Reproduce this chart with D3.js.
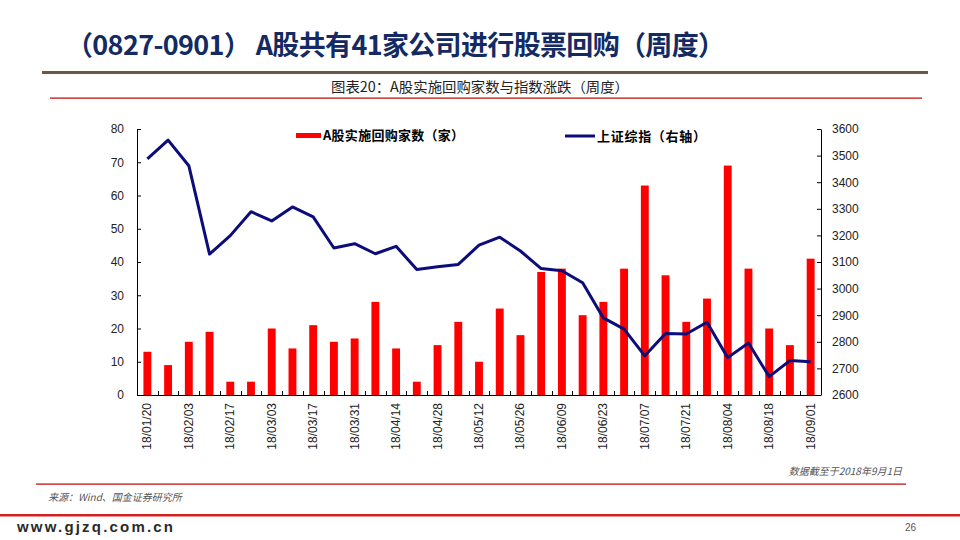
<!DOCTYPE html>
<html><head><meta charset="utf-8">
<script src="https://cdn.jsdelivr.net/npm/d3@7/dist/d3.min.js"></script>
<style>
html,body{margin:0;padding:0;background:#fff;}
svg{display:block;}
</style></head>
<body>
<svg id="c" width="960" height="540"></svg>
<script>
const dates = ["18/01/20","18/01/27","18/02/03","18/02/10","18/02/17","18/02/24","18/03/03","18/03/10","18/03/17","18/03/24","18/03/31","18/04/07","18/04/14","18/04/21","18/04/28","18/05/05","18/05/12","18/05/19","18/05/26","18/06/02","18/06/09","18/06/16","18/06/23","18/06/30","18/07/07","18/07/14","18/07/21","18/07/28","18/08/04","18/08/11","18/08/18","18/08/25","18/09/01"];
const buybacks = [13,9,16,19,4,4,20,14,21,16,17,28,14,4,15,22,10,26,18,37,38,24,28,38,63,36,22,29,69,38,20,15,41];
const shIndex = [3487.86,3558.13,3462.08,3129.85,3199.16,3289.02,3254.53,3307.17,3269.88,3152.76,3168.90,3131.11,3159.05,3071.54,3082.23,3091.03,3163.26,3193.30,3141.30,3075.14,3067.15,3021.90,2889.76,2847.42,2747.23,2831.18,2829.27,2873.59,2740.44,2795.31,2668.97,2729.43,2725.25];
const tickLabels = ["18/01/20","18/02/03","18/02/17","18/03/03","18/03/17","18/03/31","18/04/14","18/04/28","18/05/12","18/05/26","18/06/09","18/06/23","18/07/07","18/07/21","18/08/04","18/08/18","18/09/01"];
const leftTicks = [0,10,20,30,40,50,60,70,80];
const rightTicks = [2600,2700,2800,2900,3000,3100,3200,3300,3400,3500,3600];
const seriesNames = ["A股实施回购家数（家）","上证综指（右轴）"];
const titleText = "（0827-0901） A股共有41家公司进行股票回购（周度）";
const subtitleText = "图表20：A股实施回购家数与指数涨跌（周度）";

const svg = d3.select("#c");
const CJK = "'Noto Sans CJK SC','Noto Sans',sans-serif";
const LAT = "'Liberation Sans',Arial,sans-serif";

// header
svg.append("text").attr("x",66).attr("y",55).attr("font-family",CJK).attr("font-weight",700)
  .attr("font-size",27).attr("fill","#132a63").attr("textLength",659).text(titleText);
svg.append("rect").attr("x",42).attr("y",71).attr("width",886).attr("height",3).attr("fill","#6b5749");
svg.append("text").attr("x",480).attr("y",92).attr("text-anchor","middle").attr("font-family",CJK)
  .attr("font-size",14).attr("fill","#222").attr("textLength",298).attr("lengthAdjust","spacingAndGlyphs").text(subtitleText);
svg.append("rect").attr("x",50).attr("y",97.5).attr("width",872).attr("height",1.2).attr("fill","#c00000");

// chart
const L = 137, R = 821, T = 129, B = 395;
const x = d3.scaleBand().domain(dates).range([L,R]).paddingInner(0.62).paddingOuter(0.31);
const yL = d3.scaleLinear().domain([0,80]).range([B,T]);
const yR = d3.scaleLinear().domain([2600,3600]).range([B,T]);

const g = svg.append("g");
g.selectAll("rect.bar").data(buybacks).join("rect").attr("class","bar")
  .attr("x",(d,i)=>x(dates[i])).attr("y",d=>yL(d)).attr("width",x.bandwidth()).attr("height",d=>B-yL(d))
  .attr("fill","#ff0000");

const line = d3.line().x((d,i)=>x(dates[i])+x.bandwidth()/2).y(d=>yR(d));
g.append("path").datum(shIndex).attr("d",line).attr("fill","none").attr("stroke","#0c0c7a")
  .attr("stroke-width",3).attr("stroke-linejoin","round");

// axes
const axL = d3.axisLeft(yL).tickValues(leftTicks).tickFormat(d3.format("d")).tickSizeInner(-4).tickSizeOuter(0).tickPadding(13);
const gL = svg.append("g").attr("transform",`translate(${L},0)`).call(axL);
const axR = d3.axisRight(yR).tickValues(rightTicks).tickFormat(d3.format("d")).tickSizeInner(-4).tickSizeOuter(0).tickPadding(11);
const gR = svg.append("g").attr("transform",`translate(${R},0)`).call(axR);
[gL,gR].forEach(a=>{
  a.selectAll("path.domain").attr("stroke","#000");
  a.selectAll("line").attr("stroke","#000");
  a.selectAll("text").attr("font-family",LAT).attr("font-size",12).attr("fill","#222");
});
// bottom axis
svg.append("line").attr("x1",L).attr("x2",R).attr("y1",B+0.5).attr("y2",B+0.5).attr("stroke","#000");
const step = x.step();
const bounds = d3.range(dates.length+1).map(i=>x(dates[0]) - x.paddingInner()*step/2 + i*step);
svg.selectAll("line.xt").data(bounds).join("line").attr("class","xt")
  .attr("x1",d=>Math.round(d)+0.5).attr("x2",d=>Math.round(d)+0.5).attr("y1",B).attr("y2",B-4).attr("stroke","#000");
svg.selectAll("text.xl").data(tickLabels).join("text").attr("class","xl")
  .attr("transform",d=>`translate(${x(d)+x.bandwidth()/2+4},403) rotate(-90)`)
  .attr("text-anchor","end").attr("font-family",LAT).attr("font-size",12).attr("fill","#222").text(d=>d);

// legend
svg.append("rect").attr("x",296).attr("y",133).attr("width",25).attr("height",5).attr("fill","#ff0000");
svg.append("text").attr("x",323).attr("y",140).attr("font-family",CJK).attr("font-weight",700)
  .attr("font-size",13).attr("fill","#000").attr("textLength",141).text(seriesNames[0]);
svg.append("line").attr("x1",565).attr("x2",595).attr("y1",136).attr("y2",136).attr("stroke","#0c0c7a").attr("stroke-width",3);
svg.append("text").attr("x",597).attr("y",140.5).attr("font-family",CJK).attr("font-weight",700)
  .attr("font-size",13).attr("fill","#000").attr("textLength",109).text(seriesNames[1]);

// footer
svg.append("text").attr("x",902).attr("y",475).attr("text-anchor","end").attr("font-family",CJK)
  .attr("font-style","italic").attr("font-size",10).attr("fill","#555").text("数据截至于2018年9月1日");
svg.append("rect").attr("x",36).attr("y",483.5).attr("width",870).attr("height",1.2).attr("fill","#c00000");
svg.append("text").attr("x",48).attr("y",501).attr("font-family",CJK)
  .attr("font-style","italic").attr("font-size",10).attr("fill","#555").text("来源：Wind、国金证券研究所");
svg.append("rect").attr("x",0).attr("y",514).attr("width",960).attr("height",2.5).attr("fill","#d02020");
svg.append("text").attr("x",17).attr("y",532).attr("font-family",LAT).attr("font-weight",700)
  .attr("font-size",15).attr("fill","#2a2a2a").attr("textLength",156).text("www.gjzq.com.cn");
svg.append("text").attr("x",905).attr("y",531).attr("font-family",LAT)
  .attr("font-size",10).attr("fill","#555").text("26");
</script>
</body></html>
